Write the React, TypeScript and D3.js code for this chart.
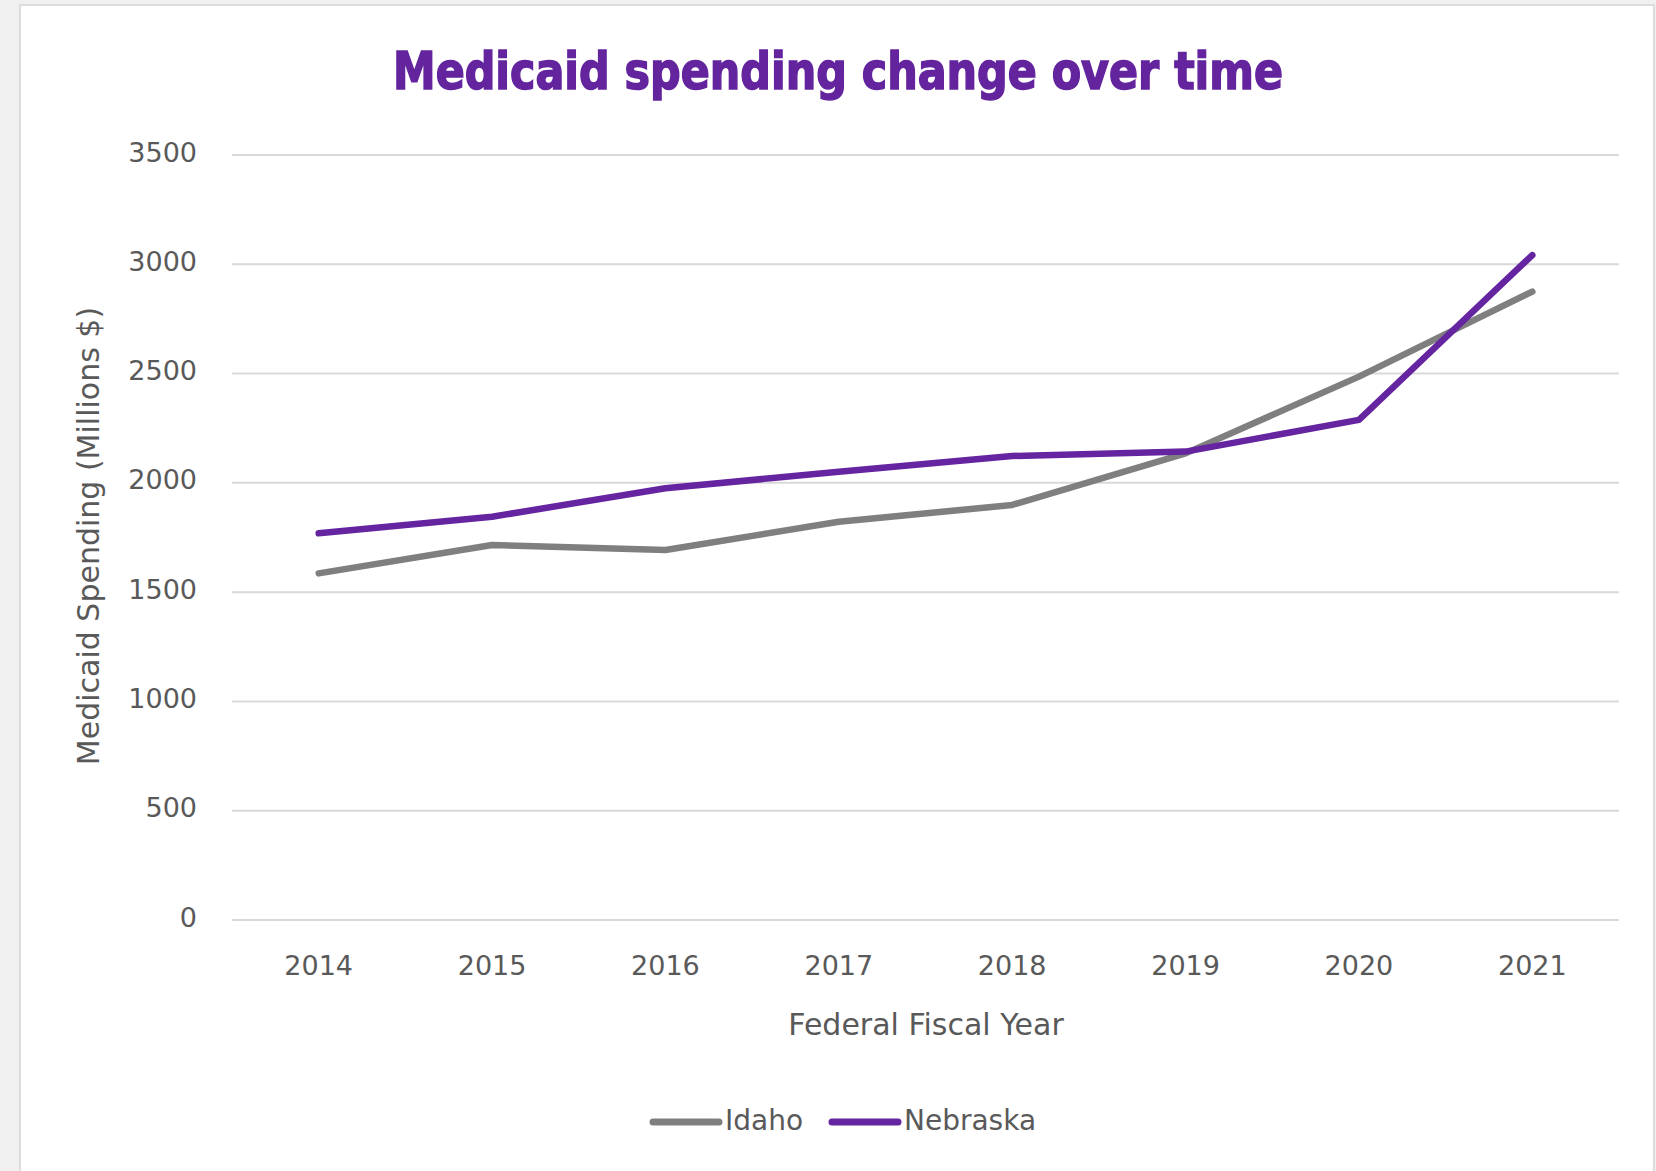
import React from "react";
import * as d3 from "d3";

const years = ["2014", "2015", "2016", "2017", "2018", "2019", "2020", "2021"];
const idaho = [1586, 1716, 1693, 1822, 1899, 2135, 2486, 2875];
const nebraska = [1769, 1845, 1975, 2051, 2123, 2143, 2288, 3042];
const yTicks = [0, 500, 1000, 1500, 2000, 2500, 3000, 3500];

const series = [
  { name: "Idaho", values: idaho, color: "#7f7f7f" },
  { name: "Nebraska", values: nebraska, color: "#6524a0" },
];

const W = 1656;
const H = 1171;
const margin = { top: 155, right: 37, bottom: 251, left: 232 };
const font = "'DejaVu Sans', sans-serif";
const textColor = "#595959";

function App() {
  const innerWidth = W - margin.left - margin.right;
  const innerHeight = H - margin.top - margin.bottom;

  const x = d3.scaleBand<string>().domain(years).range([0, innerWidth]);
  const y = d3.scaleLinear().domain([0, 3500]).range([innerHeight, 0]);
  const cx = (d: string) => (x(d) ?? 0) + x.bandwidth() / 2;

  const line = d3
    .line<number>()
    .x((_, i) => cx(years[i]))
    .y(d => y(d));

  const legendX = [653, 832];

  return (
    <div style={{ position: "absolute", left: 0, top: 0 }}>
      <svg width={W} height={H} style={{ display: "block" }}>
        <rect x={0} y={0} width={W} height={H} fill="#f0f0f0" />
        <rect x={20} y={5} width={1634} height={H} fill="#ffffff" stroke="#dcdcdc" strokeWidth={2} />

        <text
          x={838}
          y={89}
          textAnchor="middle"
          fontFamily="'DejaVu Sans Condensed', 'DejaVu Sans', sans-serif"
          fontWeight="bold"
          fontSize={52}
          fill="#63249e"
          stroke="#63249e"
          strokeWidth={1.5}
          textLength={890}
          lengthAdjust="spacingAndGlyphs"
        >
          Medicaid spending change over time
        </text>

        <g transform={`translate(${margin.left},${margin.top})`}>
          {yTicks.map(t => (
            <g key={t}>
              <line x1={0} x2={innerWidth} y1={y(t)} y2={y(t)} stroke="#d9d9d9" strokeWidth={2} />
              <text
                x={-35}
                y={y(t) - 3}
                textAnchor="end"
                dominantBaseline="central"
                fontFamily={font}
                fontSize={27}
                fill={textColor}
              >
                {t}
              </text>
            </g>
          ))}

          {years.map(yr => (
            <text
              key={yr}
              x={cx(yr)}
              y={innerHeight + 45}
              textAnchor="middle"
              dominantBaseline="central"
              fontFamily={font}
              fontSize={27}
              fill={textColor}
            >
              {yr}
            </text>
          ))}

          {series.map(s => (
            <path
              key={s.name}
              d={line(s.values) ?? undefined}
              fill="none"
              stroke={s.color}
              strokeWidth={6.5}
              strokeLinecap="round"
              strokeLinejoin="round"
            />
          ))}
        </g>

        <text
          x={926}
          y={1024}
          textAnchor="middle"
          dominantBaseline="central"
          fontFamily={font}
          fontSize={30}
          fill={textColor}
        >
          Federal Fiscal Year
        </text>

        <text
          transform={`translate(88,536) rotate(-90)`}
          textAnchor="middle"
          dominantBaseline="central"
          fontFamily={font}
          fontSize={30}
          fill={textColor}
        >
          Medicaid Spending (Millions $)
        </text>

        {series.map((s, i) => (
          <g key={s.name} transform={`translate(${legendX[i]},1122)`}>
            <line x1={0} x2={66} y1={0} y2={0} stroke={s.color} strokeWidth={7} strokeLinecap="round" />
            <text
              x={72}
              y={-2}
              dominantBaseline="central"
              fontFamily={font}
              fontSize={28}
              fill={textColor}
            >
              {s.name}
            </text>
          </g>
        ))}
      </svg>
    </div>
  );
}

export default App;
